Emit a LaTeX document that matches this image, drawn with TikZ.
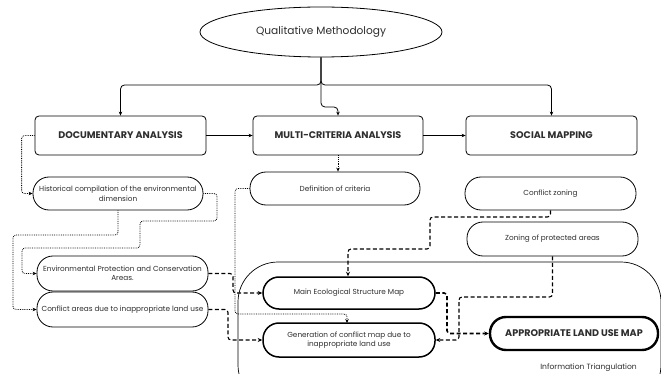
\documentclass[tikz,border=0pt]{standalone}
\usepackage{fontspec}
\setmainfont{Poppins}
\usetikzlibrary{arrows.meta,shapes.geometric}
\definecolor{txt}{HTML}{2E2E2E}
\begin{document}
\begin{tikzpicture}[x=1pt,y=-1pt,
  every node/.style={text=txt, align=center, inner sep=1pt},
  ovalnode/.style={ellipse, draw, line width=0.8pt, minimum width=242pt, minimum height=50pt, font=\fontsize{10.6}{12}\selectfont},
  headbox/.style={draw, line width=0.8pt, rounded corners=4pt, fill=white, font=\bfseries\fontsize{9.6}{11}\selectfont},
  pill/.style={draw, line width=0.8pt, rounded corners=16pt, fill=white, font=\fontsize{7.3}{9.5}\selectfont},
  pillthick/.style={pill, line width=1.5pt},
  pillbold/.style={draw, line width=2.4pt, rounded corners=16pt, fill=white, font=\bfseries\fontsize{9.6}{11}\selectfont},
  arr/.style={-{Stealth[length=4pt,width=3.5pt]}, line width=0.8pt},
  dotarr/.style={-{Stealth[length=4pt,width=3.5pt]}, line width=0.8pt, densely dotted, rounded corners=3pt},
  dasharr/.style={-{Stealth[length=4.5pt,width=4pt]}, line width=1.1pt, dash pattern=on 4pt off 2.5pt, rounded corners=3pt},
  thickdash/.style={dasharr, line width=1.6pt}
]
\useasboundingbox (0,0) rectangle (661,374);
\fill[white] (0,0) rectangle (661,374);

% container
\begin{scope}
\clip (0,0) rectangle (661,374);
\draw[line width=0.7pt, rounded corners=40pt] (238,262) rectangle (661,405);
\end{scope}
\node[font=\fontsize{7.6}{9}\selectfont, anchor=east] (tri) at (638,368) {Information Triangulation};

% nodes
\node[ovalnode] (qm) at (321,32) {Qualitative Methodology};

\node[headbox, minimum width=171pt, minimum height=39pt] (doc) at (120.5,135.5) {DOCUMENTARY ANALYSIS};
\node[headbox, minimum width=170pt, minimum height=39pt] (mca) at (338,135.5) {MULTI-CRITERIA ANALYSIS};
\node[headbox, minimum width=171pt, minimum height=39pt] (sm) at (551.5,135.5) {SOCIAL MAPPING};

\node[pill, minimum width=170pt, minimum height=33pt] (hist) at (118,193.5) {Historical compilation of the environmental\\dimension};
\node[pill, minimum width=170pt, minimum height=33pt] (defc) at (335,188.5) {Definition of criteria};
\node[pill, minimum width=171pt, minimum height=33pt] (cz) at (550.5,193.5) {Conflict zoning};
\node[pill, minimum width=171pt, minimum height=34pt] (zpa) at (552.5,239) {Zoning of protected areas};
\node[pill, minimum width=171pt, minimum height=35pt] (env) at (122.5,273.5) {Environmental Protection and Conservation\\Areas.};
\node[pill, minimum width=171pt, minimum height=35pt] (caa) at (122.5,309.5) {Conflict areas due to inappropriate land use};

% dotted connector behind main map
\draw[dotarr] (defc.west) -- (235,188.5) -- (235,314) -- (347,314) -- ([xshift=-2pt]349,323);

\node[pillthick, minimum width=172pt, minimum height=32pt] (mesm) at (349,293) {Main Ecological Structure Map};
\node[pillthick, minimum width=172pt, minimum height=34pt] (gen) at (349,340) {Generation of conflict map due to\\inappropriate land use};
\node[pillbold, minimum width=168pt, minimum height=33pt] (alum) at (574,333.5) {APPROPRIATE LAND USE MAP};

% top connectors
\draw[arr, rounded corners=4pt] (qm.south) -- (321,85) -| (doc.north);
\draw[arr, rounded corners=4pt] (qm.south) -- (321,85) -| (sm.north);
\draw[arr, rounded corners=4pt] (qm.south) -- (321,107) -| (mca.north);
\draw[arr] (doc.east) -- (mca.west);
\draw[arr] (mca.east) -- (sm.west);

% dotted connectors
\draw[dotarr] (doc.west) -- ++(-13,0) |- (hist.west);
\draw[dotarr] (mca.south) -- (mca.south |- defc.north);
\draw[dotarr] (hist.east) -- (217,193.5) -- (217,221) -- (140,221) -- (140,248) -- (22,248) -- (22,273.5) -- (env.west);
\draw[dotarr] (hist.south) -- (118,235) -- (13,235) -- (13,309.5) -- (caa.west);

% dashed connectors
\draw[dasharr] (env.east) -- (233,273.5) -- (233,293) -- (mesm.west);
\draw[dasharr] (caa.east) -- (228,309.5) -- (228,340) -- (gen.west);
\draw[dasharr] (cz.south) -- (550.5,217) -- (430,217) -- (430,249) -- (348,249) -- ([xshift=-1pt]mesm.north);
\draw[dasharr] (zpa.south) -- (552.5,297) -- (459,297) -- (459,340) -- (gen.east);
\draw[thickdash] (mesm.east) -- (447,293) -- (447,333.5) -- (alum.west);
\end{tikzpicture}
\end{document}
